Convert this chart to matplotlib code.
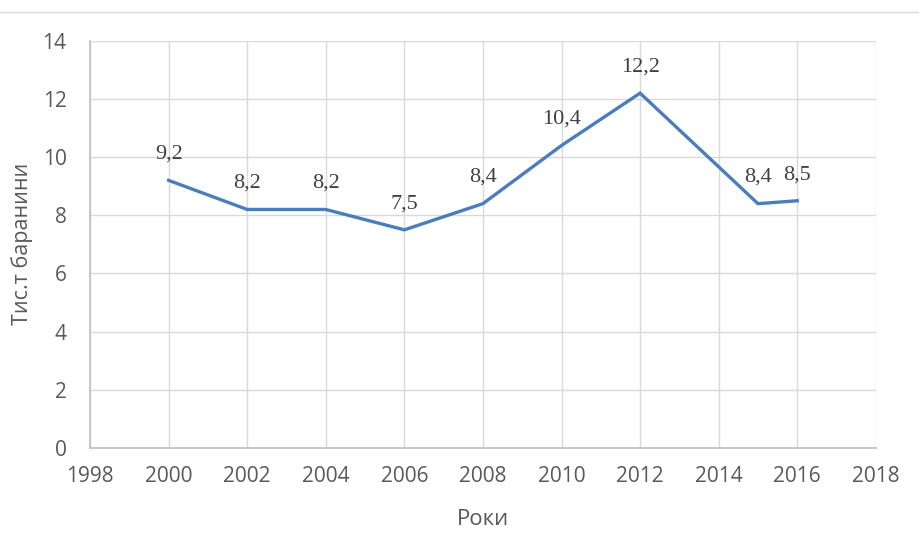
import matplotlib.pyplot as plt
from matplotlib.lines import Line2D

# data
years = [2000, 2002, 2004, 2006, 2008, 2010, 2012, 2015, 2016]
values = [9.2, 8.2, 8.2, 7.5, 8.4, 10.4, 12.2, 8.4, 8.5]
x_ticks = list(range(1998, 2019, 2))
y_ticks = list(range(0, 15, 2))

plt.rcParams['font.family'] = ['Open Sans', 'DejaVu Sans']

fig = plt.figure(figsize=(9.19, 5.51), dpi=100)
ax = fig.add_axes([0.098, 0.187, 0.855, 0.739])

ax.plot(years, values, color='#4A7EBB', linewidth=2.4, solid_joinstyle='miter')

# data labels
for x, y in zip(years, values):
    ax.annotate(f'{y:.1f}'.replace('.', ','), (x, y), xytext=(0, 12),
                textcoords='offset points', ha='center', va='bottom',
                fontsize=16, family='Liberation Serif', color='#404040')

ax.set_xlim(1998, 2018)
ax.set_ylim(0, 14)
ax.set_xticks(x_ticks)
ax.set_yticks(y_ticks)
ax.grid(True, color='#d9d9d9', linewidth=1)
ax.set_axisbelow(True)
for s in ['top', 'right']:
    ax.spines[s].set_visible(False)
for s in ['left', 'bottom']:
    ax.spines[s].set_color('#bfbfbf')
    ax.spines[s].set_linewidth(1.2)
ax.tick_params(length=0, labelsize=15, labelcolor='#595959')
ax.tick_params(axis='x', pad=13)
ax.tick_params(axis='y', pad=17)

ax.set_xlabel('Роки', fontsize=16, color='#595959', labelpad=16)
ax.set_ylabel('Тис.т баранини', fontsize=15.5, color='#595959', labelpad=7)

# thin border line at the top of the figure
fig.add_artist(Line2D([0, 1], [0.978, 0.978], transform=fig.transFigure,
                      color='#d9d9d9', linewidth=1))

fig.savefig('out.png', dpi=100)
